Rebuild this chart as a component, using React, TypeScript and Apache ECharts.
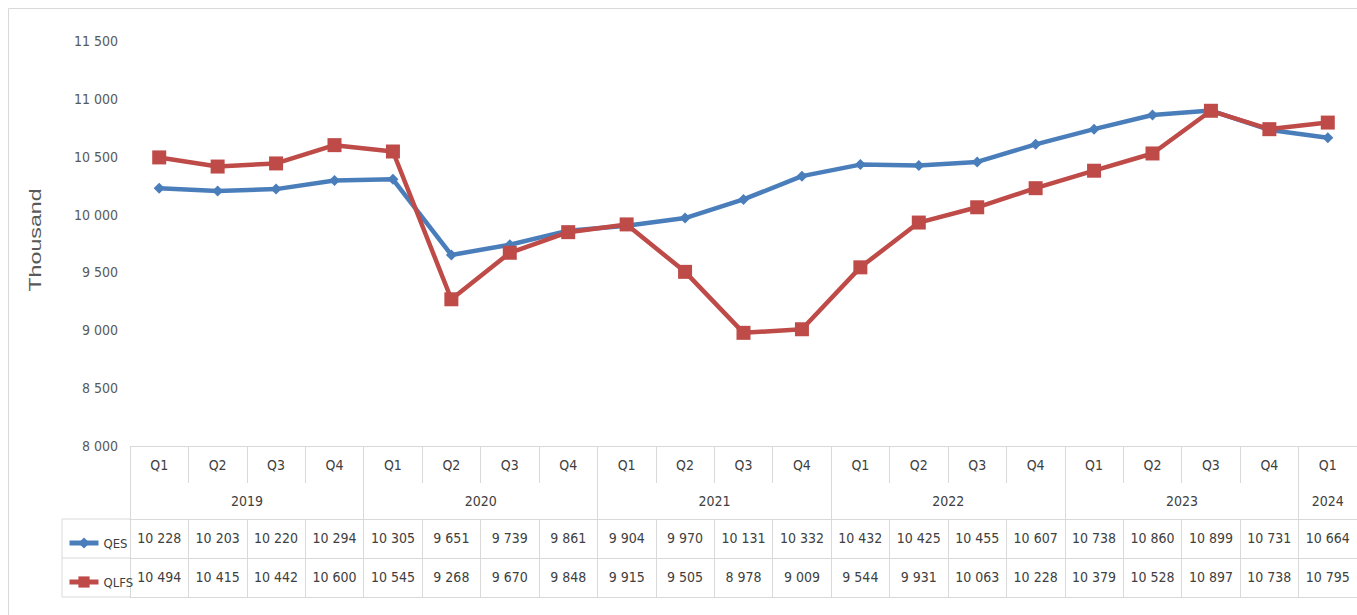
import React, { useEffect, useRef } from "react";
import * as echarts from "echarts";

const quarters = ["Q1","Q2","Q3","Q4","Q1","Q2","Q3","Q4","Q1","Q2","Q3","Q4","Q1","Q2","Q3","Q4","Q1","Q2","Q3","Q4","Q1"];
const years = ["2019","2019","2019","2019","2020","2020","2020","2020","2021","2021","2021","2021","2022","2022","2022","2022","2023","2023","2023","2023","2024"];
const qes = [10228,10203,10220,10294,10305,9651,9739,9861,9904,9970,10131,10332,10432,10425,10455,10607,10738,10860,10899,10731,10664];
const qlfs = [10494,10415,10442,10600,10545,9268,9670,9848,9915,9505,8978,9009,9544,9931,10063,10228,10379,10528,10897,10738,10795];
const yTicks = { min: 8000, max: 11500, interval: 500 };

const FONT = "'Liberation Sans Narrow', 'Arial Narrow', 'DejaVu Sans Condensed', 'Liberation Sans', sans-serif";
const fmt = (v: number) => String(v).replace(/\B(?=(\d{3})+(?!\d))/g, " ");
const GRID_LEFT = 130;
const COL = 58.8;
const LINE = "#d9d9d9";
const TXT = "#404040";
const FS = 14;

export default function App() {
  const ref = useRef<HTMLDivElement>(null);
  useEffect(() => {
    if (!ref.current) return;
    const chart = echarts.init(ref.current, null, { renderer: "svg" });
    const n = quarters.length;
    const baseAxis = {
      type: "category",
      data: quarters,
      position: "bottom",
      boundaryGap: true,
    };
    const legendBase = {
      orient: "vertical",
      left: 62,
      itemWidth: 29,
      itemHeight: 14,
      lineStyle: { width: 5 },
      textStyle: { fontFamily: FONT, fontSize: 13, color: TXT, lineHeight: 14 },
    };
    chart.setOption({
      animation: false,
      backgroundColor: "#ffffff",
      textStyle: { fontFamily: FONT },
      grid: { left: GRID_LEFT, top: 41, height: 405, width: COL * n },
      legend: [
        { ...legendBase, data: ["QES"], top: 531 },
        { ...legendBase, data: ["QLFS"], top: 570 },
      ],
      xAxis: [
        {
          ...baseAxis,
          axisLine: { show: true, lineStyle: { color: LINE, width: 1 } },
          axisTick: { show: true, interval: 0, length: 37, lineStyle: { color: LINE } },
          axisLabel: { interval: 0, margin: 12, fontSize: FS, color: TXT, fontFamily: FONT },
        },
        {
          ...baseAxis,
          data: years,
          axisLine: { show: false },
          axisTick: { show: true, interval: 3, length: 73, lineStyle: { color: LINE } },
          axisLabel: {
            interval: 0,
            margin: 48,
            fontSize: FS,
            color: TXT,
            fontFamily: FONT,
            formatter: (v: string, i: number) => {
              if (i === n - 1) return v;
              if (i % 4 === 1) return "{s|" + v + "}";
              return "";
            },
            rich: { s: { padding: [0, 0, 0, COL], fontSize: FS, color: TXT, fontFamily: FONT } },
          },
        },
        {
          ...baseAxis,
          offset: 73,
          axisLine: { show: true, lineStyle: { color: LINE, width: 1 } },
          axisTick: { show: true, interval: 0, length: 78, lineStyle: { color: LINE } },
          axisLabel: {
            interval: 0,
            margin: 12,
            fontSize: FS,
            color: TXT,
            fontFamily: FONT,
            formatter: (_v: string, i: number) => fmt(qes[i]),
          },
        },
        {
          ...baseAxis,
          offset: 112,
          axisLine: { show: true, lineStyle: { color: LINE, width: 1 } },
          axisTick: { show: false },
          axisLabel: {
            interval: 0,
            margin: 12,
            fontSize: FS,
            color: TXT,
            fontFamily: FONT,
            formatter: (_v: string, i: number) => fmt(qlfs[i]),
          },
        },
        {
          ...baseAxis,
          offset: 151,
          axisLine: { show: true, lineStyle: { color: LINE, width: 1 } },
          axisTick: { show: false },
          axisLabel: { show: false },
        },
      ],
      yAxis: {
        type: "value",
        min: yTicks.min,
        max: yTicks.max,
        interval: yTicks.interval,
        axisLine: { show: false },
        axisTick: { show: false },
        splitLine: { show: false },
        axisLabel: { margin: 12, fontSize: 14, color: "#595959", fontFamily: FONT, formatter: (v: number) => fmt(v) },
      },
      graphic: [
        { type: "rect", shape: { x: 8.5, y: 8.5, width: 1500, height: 800 }, style: { fill: "none", stroke: LINE, lineWidth: 1 }, silent: true },
        { type: "line", shape: { x1: 62, y1: 519, x2: GRID_LEFT, y2: 519 }, style: { stroke: LINE, lineWidth: 1 } },
        { type: "line", shape: { x1: 62, y1: 558, x2: GRID_LEFT, y2: 558 }, style: { stroke: LINE, lineWidth: 1 } },
        { type: "line", shape: { x1: 62, y1: 597, x2: GRID_LEFT, y2: 597 }, style: { stroke: LINE, lineWidth: 1 } },
        { type: "line", shape: { x1: 62, y1: 519, x2: 62, y2: 597 }, style: { stroke: LINE, lineWidth: 1 } },
        {
          type: "text",
          x: 35,
          y: 240,
          rotation: Math.PI / 2,
          scaleX: 1.45,
          style: { text: "Thousand", fontSize: 16, fontFamily: "'Liberation Sans', Arial, sans-serif", fill: "#595959", align: "center", verticalAlign: "middle" },
        },
      ],
      series: [
        {
          name: "QES",
          type: "line",
          data: qes,
          color: "#4a7ebb",
          lineStyle: { width: 4.5, color: "#4a7ebb" },
          itemStyle: { color: "#4a7ebb" },
          symbol: "diamond",
          symbolSize: 11,
          showAllSymbol: true,
          z: 2,
        },
        {
          name: "QLFS",
          type: "line",
          data: qlfs,
          color: "#be4b48",
          lineStyle: { width: 4.5, color: "#be4b48" },
          itemStyle: { color: "#be4b48" },
          symbol: "rect",
          symbolSize: 14,
          showAllSymbol: true,
          z: 3,
        },
      ],
    });
    return () => chart.dispose();
  }, []);
  return (
    <div
      ref={ref}
      style={{ position: "fixed", left: 0, top: 0, width: 1357, height: 615, background: "#fff" }}
    />
  );
}
